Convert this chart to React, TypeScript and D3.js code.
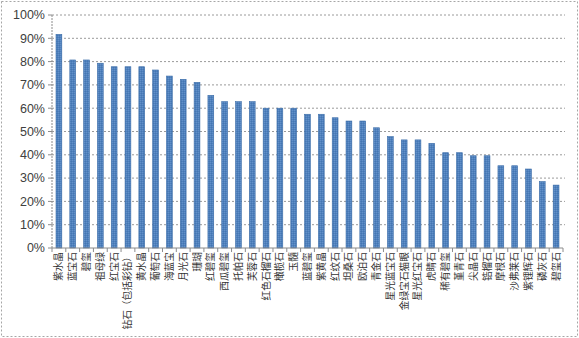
import React from "react";
import * as d3 from "d3";

const categories = [
  "紫水晶", "蓝宝石", "碧玺", "祖母绿", "红宝石", "钻石（包括彩钻）", "黄水晶", "葡萄石",
  "海蓝宝", "月光石", "珊瑚", "红碧玺", "西瓜碧玺", "托帕石", "芙蓉石", "红色石榴石",
  "橄榄石", "玉髓", "蓝碧玺", "紫黄晶", "红纹石", "坦桑石", "欧泊石", "青金石",
  "星光蓝宝石", "金绿宝石猫眼", "星光红宝石", "虎睛石", "稀有碧玺", "堇青石", "尖晶石",
  "锆榴石", "摩根石", "沙弗莱石", "紫锂辉石", "磷灰石", "碧玺石",
];
const values = [
  0.917, 0.807, 0.807, 0.793, 0.778, 0.778, 0.778, 0.764,
  0.738, 0.724, 0.711, 0.655, 0.628, 0.628, 0.628, 0.600,
  0.600, 0.600, 0.574, 0.574, 0.559, 0.545, 0.545, 0.516,
  0.478, 0.464, 0.464, 0.449, 0.409, 0.409, 0.396,
  0.396, 0.353, 0.353, 0.339, 0.285, 0.270,
];
const yTicks = [0, 0.1, 0.2, 0.3, 0.4, 0.5, 0.6, 0.7, 0.8, 0.9, 1.0];

const W = 579;
const H = 338;
const left = 52;
const right = 563;
const top = 15;
const bottom = 248;

export default function App() {
  const x = d3.scaleBand<string>().domain(categories).range([left, right]).paddingInner(0.58).paddingOuter(0.29);
  const y = d3.scaleLinear().domain([0, 1]).range([bottom, top]);
  const fmt = d3.format(".0%");
  const boundaries = d3.range(categories.length + 1).map((i) => left + i * ((right - left) / categories.length));

  return (
    <svg width={W} height={H} style={{ position: "absolute", left: 0, top: 0, background: "#fff" }}
      fontFamily="'Noto Sans CJK SC', 'Noto Sans', sans-serif">
      <defs>
        <pattern id="hatch" width="2" height="2" patternUnits="userSpaceOnUse">
          <rect width="2" height="2" fill="#4f81bd" />
          <rect width="1" height="1" fill="#6390c8" />
          <rect x="1" y="1" width="1" height="1" fill="#4576b2" />
        </pattern>
      </defs>
      <rect x={1.5} y={1.5} width={W - 3} height={H - 3} fill="none" stroke="#a6a6a6" strokeDasharray="2,2" />
      {yTicks.map((t) => (
        <g key={t}>
          {t > 0 && (
            <line x1={left} x2={right + 2} y1={y(t)} y2={y(t)} stroke="#9a9a9a" strokeDasharray="2,2" strokeWidth={1} />
          )}
          <line x1={left - 4} x2={left} y1={y(t)} y2={y(t)} stroke="#8c8c8c" />
          <text x={left - 7} y={y(t)} dy="0.35em" textAnchor="end" fontSize={12.5}
            fontFamily="'Liberation Sans', Arial, sans-serif" fill="#404040">
            {fmt(t)}
          </text>
        </g>
      ))}
      <line x1={left} x2={left} y1={top} y2={bottom} stroke="#8c8c8c" strokeDasharray="2,1" />
      {categories.map((c, i) => (
        <rect key={c} x={x(c)!} y={y(values[i])} width={x.bandwidth()} height={bottom - y(values[i])}
          fill="url(#hatch)" stroke="#3a6ca8" strokeWidth={0.6} />
      ))}
      <line x1={left} x2={right} y1={bottom} y2={bottom} stroke="#8c8c8c" />
      {boundaries.map((b, i) => (
        <line key={i} x1={b} x2={b} y1={bottom} y2={bottom + 4} stroke="#8c8c8c" />
      ))}
      {categories.map((c) => {
        const cx = x(c)! + x.bandwidth() / 2;
        return (
          <text key={c} transform={`translate(${cx + 3.5},${bottom + 4}) rotate(-90)`} textAnchor="end"
            fontSize={9.7} fill="#333">
            {c}
          </text>
        );
      })}
    </svg>
  );
}
